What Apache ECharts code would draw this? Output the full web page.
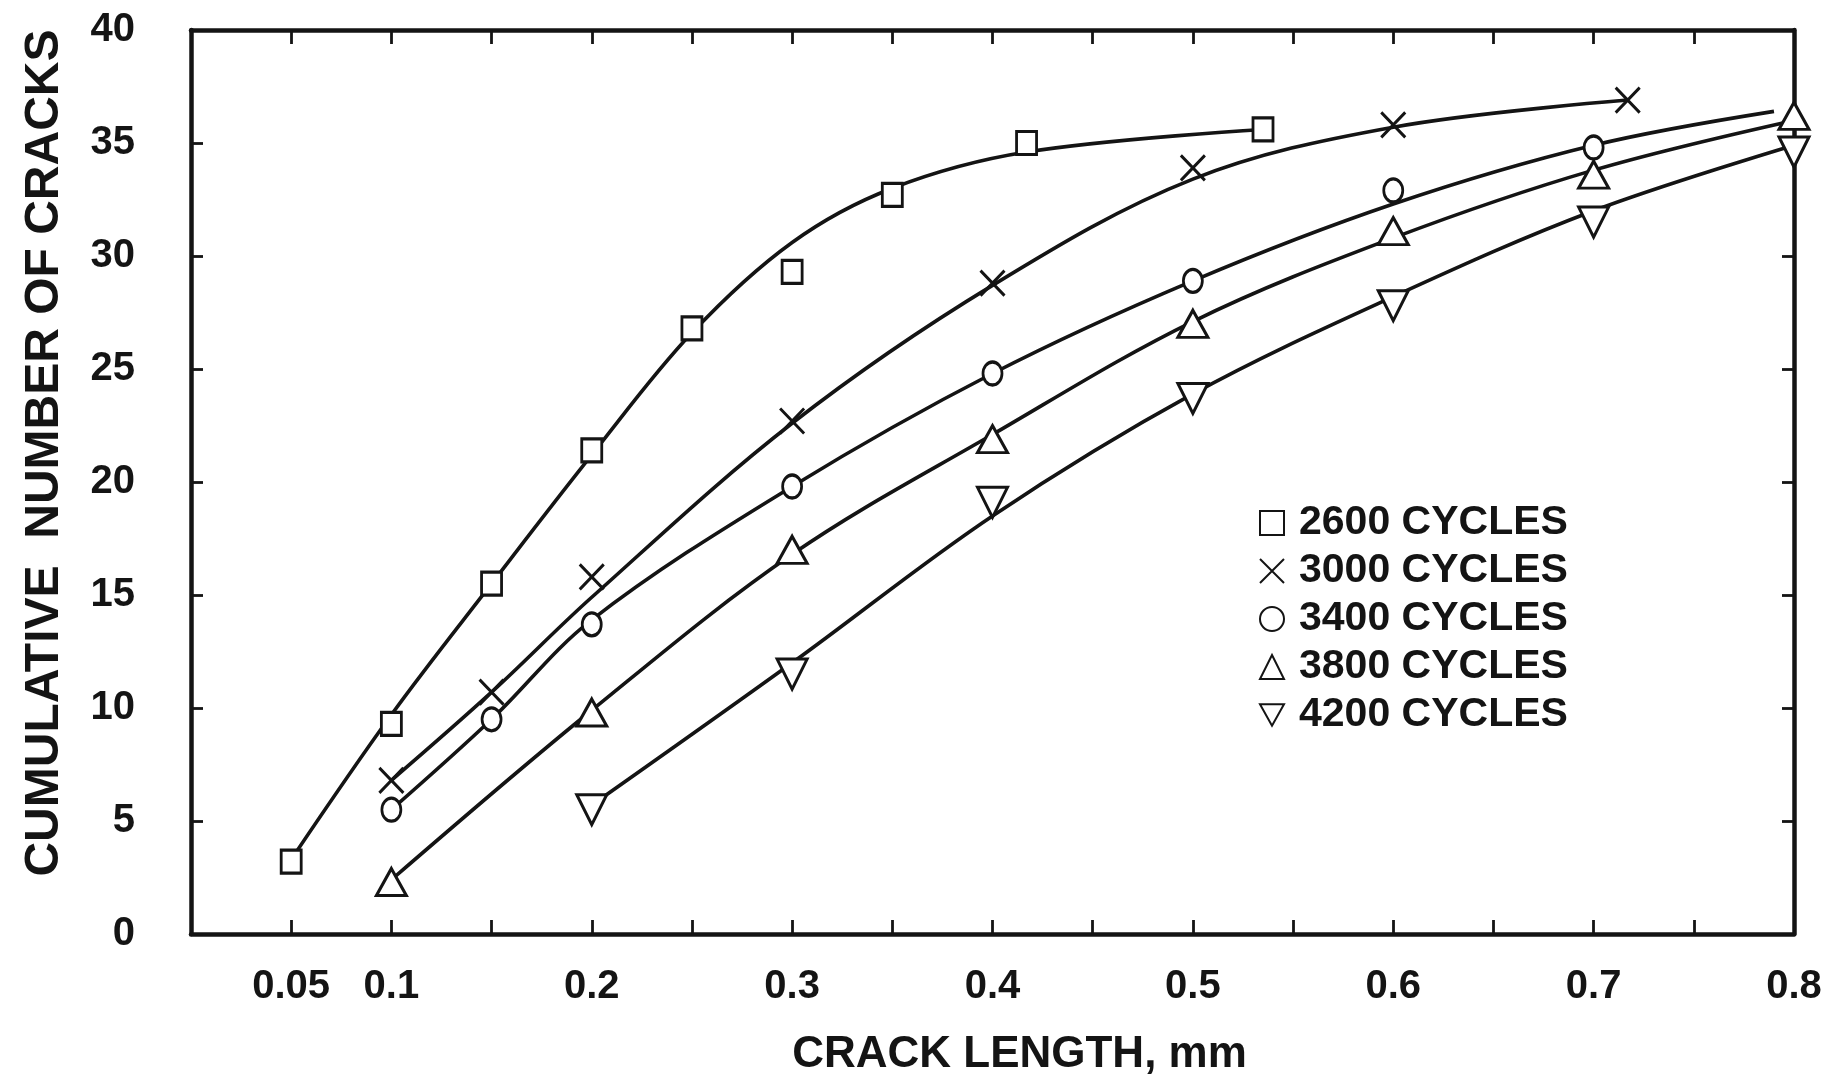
<!DOCTYPE html>
<html>
<head>
<meta charset="utf-8">
<title>Cumulative number of cracks vs crack length</title>
<script src="https://cdn.jsdelivr.net/npm/echarts@6/dist/echarts.min.js"></script>
<style>
  html, body { margin: 0; padding: 0; background: #ffffff; }
  #chart { width: 1839px; height: 1082px; }
</style>
</head>
<body>
<div id="chart"></div>
<script>
// ---- data -------------------------------------------------------------
const SERIES_NAMES = ['2600 CYCLES', '3000 CYCLES', '3400 CYCLES', '3800 CYCLES', '4200 CYCLES'];

// measured points [crack length mm, cumulative number of cracks]
const PTS_2600 = [[0.05, 3.2], [0.1, 9.3], [0.15, 15.5], [0.2, 21.4], [0.25, 26.8], [0.3, 29.3], [0.35, 32.7], [0.417, 35.0], [0.535, 35.6]];
const PTS_3000 = [[0.1, 6.8], [0.15, 10.7], [0.2, 15.8], [0.3, 22.7], [0.4, 28.8], [0.5, 33.9], [0.6, 35.8], [0.717, 36.9]];
const PTS_3400 = [[0.1, 5.5], [0.15, 9.5], [0.2, 13.7], [0.3, 19.8], [0.4, 24.8], [0.5, 28.9], [0.6, 32.9], [0.7, 34.8]];
const PTS_3800 = [[0.1, 2.3], [0.2, 9.8], [0.3, 17.0], [0.4, 21.9], [0.5, 27.0], [0.6, 31.1], [0.7, 33.6], [0.8, 36.2]];
const PTS_4200 = [[0.2, 5.5], [0.3, 11.5], [0.4, 19.1], [0.5, 23.7], [0.6, 27.8], [0.7, 31.5], [0.8, 34.6]];

// faired curves through each set of points
const FIT_2600 = [[0.05, 3.3], [0.1, 9.7], [0.15, 15.5], [0.2, 21.2], [0.25, 26.6], [0.3, 30.6], [0.35, 33.0], [0.417, 34.6], [0.535, 35.6]];
const FIT_3000 = [[0.1, 6.8], [0.15, 10.7], [0.2, 14.9], [0.3, 22.6], [0.4, 28.7], [0.5, 33.4], [0.6, 35.7], [0.717, 36.9]];
const FIT_3400 = [[0.1, 5.5], [0.15, 9.5], [0.2, 13.9], [0.3, 19.8], [0.4, 24.8], [0.5, 28.9], [0.6, 32.3], [0.7, 34.9], [0.79, 36.4]];
const FIT_3800 = [[0.1, 2.4], [0.2, 9.9], [0.3, 16.8], [0.4, 22.1], [0.5, 27.1], [0.6, 30.8], [0.7, 33.8], [0.8, 36.0]];
const FIT_4200 = [[0.2, 5.7], [0.3, 12.0], [0.4, 18.5], [0.5, 23.9], [0.6, 28.2], [0.7, 32.0], [0.8, 34.9]];

// axis tick labels
const X_TICK_LABELS = ['0.05', '0.1', '0.2', '0.3', '0.4', '0.5', '0.6', '0.7', '0.8'];
const Y_TICK_LABELS = ['0', '5', '10', '15', '20', '25', '30', '35', '40'];

// ---- styling ----------------------------------------------------------
const INK = '#141414';
const FONT = '"Liberation Sans", Arial, Helvetica, sans-serif';

const SYM = {
  square: { symbol: 'rect', size: [20, 23] },
  cross: { symbol: 'path://M0,0L10,10M10,0L0,10', size: [24, 25] },
  circle: { symbol: 'path://M10,0A10,10,0,1,1,10,20A10,10,0,1,1,10,0Z', size: [19, 23] },
  up: { symbol: 'triangle', size: [30, 27] },
  down: { symbol: 'path://M0,0L20,0L10,18Z', size: [30, 30] }
};

const sets = [
  { name: SERIES_NAMES[0], pts: PTS_2600, fit: FIT_2600, sym: SYM.square },
  { name: SERIES_NAMES[1], pts: PTS_3000, fit: FIT_3000, sym: SYM.cross },
  { name: SERIES_NAMES[2], pts: PTS_3400, fit: FIT_3400, sym: SYM.circle },
  { name: SERIES_NAMES[3], pts: PTS_3800, fit: FIT_3800, sym: SYM.up },
  { name: SERIES_NAMES[4], pts: PTS_4200, fit: FIT_4200, sym: SYM.down }
];

const series = [];
sets.forEach(s => {
  series.push({
    type: 'line',
    name: s.name + ' fit',
    data: s.fit,
    smooth: 0.35,
    showSymbol: false,
    silent: true,
    z: 2,
    lineStyle: { color: INK, width: 3.6 }
  });
});
sets.forEach(s => {
  series.push({
    type: 'scatter',
    name: s.name,
    data: s.pts,
    symbol: s.sym.symbol,
    symbolSize: s.sym.size,
    z: 4,
    itemStyle: { color: '#ffffff', borderColor: INK, borderWidth: 3, opacity: 1 }
  });
});

const axisLine = { show: true, onZero: false, lineStyle: { color: INK, width: 4.5 } };
const tickIn = len => ({ show: true, inside: true, length: len, lineStyle: { color: INK, width: 2.8 } });

const option = {
  backgroundColor: '#ffffff',
  animation: false,
  grid: { left: 191, right: 45, top: 30, bottom: 146, containLabel: false },
  legend: {
    orient: 'vertical',
    left: 1254,
    top: 497,
    itemWidth: 24,
    itemHeight: 24,
    itemGap: 6,
    data: SERIES_NAMES,
    selectedMode: false,
    textStyle: { fontFamily: FONT, fontWeight: 'bold', fontSize: 41, color: INK, lineHeight: 42, padding: [0, 0, 0, 10] }
  },
  xAxis: [
    {
      type: 'value', position: 'bottom', min: 0, max: 0.8, interval: 0.05,
      axisLine: axisLine, axisTick: tickIn(14), splitLine: { show: false },
      axisLabel: {
        margin: 33, color: INK, fontFamily: FONT, fontWeight: 'bold', fontSize: 40,
        formatter: v => { const s = String(+v.toFixed(2)); return X_TICK_LABELS.includes(s) ? s : ''; }
      },
      name: 'CRACK LENGTH, mm', nameLocation: 'middle', nameGap: 99,
      nameTextStyle: { fontFamily: FONT, fontWeight: 'bold', fontSize: 44, color: INK, padding: [0, 0, 0, 54] }
    },
    {
      type: 'value', position: 'top', min: 0, max: 0.8, interval: 0.05,
      axisLine: axisLine, axisTick: tickIn(14), axisLabel: { show: false }, splitLine: { show: false }
    }
  ],
  yAxis: [
    {
      type: 'value', position: 'left', min: 0, max: 40, interval: 5,
      axisLine: axisLine, axisTick: tickIn(12), splitLine: { show: false },
      axisLabel: {
        margin: 56, color: INK, fontFamily: FONT, fontWeight: 'bold', fontSize: 40,
        formatter: v => { const s = String(Math.round(v)); return Y_TICK_LABELS.includes(s) ? s : ''; }
      },
      name: 'CUMULATIVE  NUMBER OF CRACKS', nameLocation: 'middle', nameGap: 122, nameRotate: 90,
      nameTextStyle: { fontFamily: FONT, fontWeight: 'bold', fontSize: 48, color: INK, padding: [0, 0, 0, 58] }
    },
    {
      type: 'value', position: 'right', min: 0, max: 40, interval: 5,
      axisLine: axisLine, axisTick: tickIn(12), axisLabel: { show: false }, splitLine: { show: false }
    }
  ],
  series: series
};

const chart = echarts.init(document.getElementById('chart'), null, { renderer: 'canvas' });
chart.setOption(option);
</script>
</body>
</html>
